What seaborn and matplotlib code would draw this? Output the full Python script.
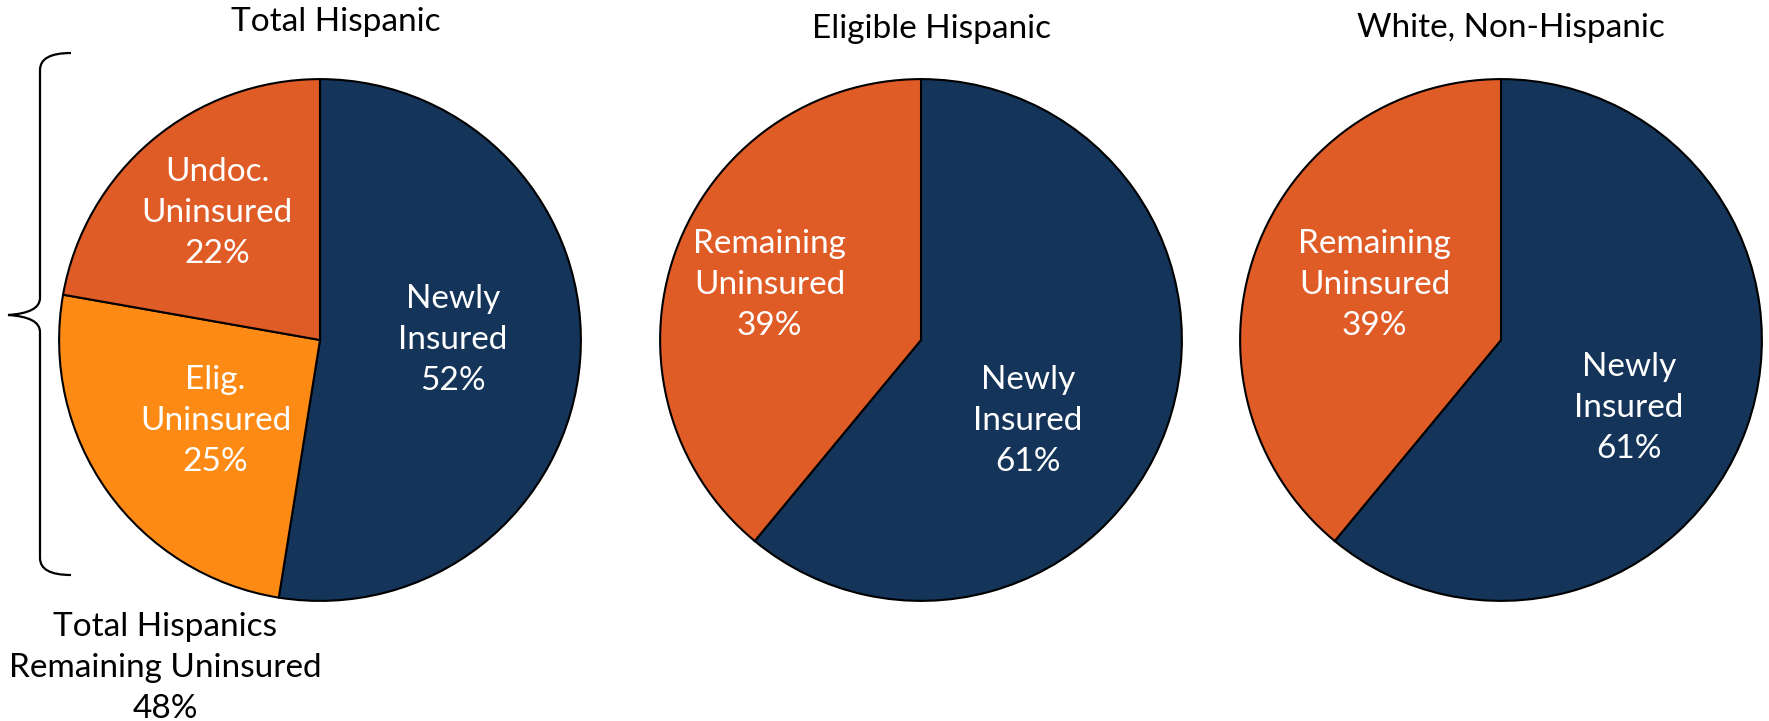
import matplotlib
matplotlib.use("Agg")
import matplotlib.pyplot as plt
from matplotlib.path import Path
from matplotlib.patches import PathPatch
import seaborn as sns

titles = ["Total Hispanic", "Eligible Hispanic", "White, Non-Hispanic"]

total_labels = ["Newly\nInsured", "Elig.\nUninsured", "Undoc.\nUninsured"]
total_values = [52, 25, 22]

eligible_labels = ["Newly\nInsured", "Remaining\nUninsured"]
eligible_values = [61, 39]

white_labels = ["Newly\nInsured", "Remaining\nUninsured"]
white_values = [61, 39]

remaining_note = "Total Hispanics\nRemaining Uninsured\n48%"

navy = "#143459"
red_orange = "#E05C27"
orange = "#FD8A14"

sns.set_theme(style="white")
plt.rcParams["font.family"] = ["Lato", "DejaVu Sans"]

W, H = 1769, 721
fig = plt.figure(figsize=(W / 100, H / 100), dpi=100)

R = 263.5
cy = 340
centers_x = [320, 921, 1501]

charts = [
    (total_values, total_labels, [navy, orange, red_orange],
     [(0.51, 0.0), (-0.40, -0.31), (-0.395, 0.486)]),
    (eligible_values, eligible_labels, [navy, red_orange],
     [(0.41, -0.31), (-0.58, 0.21)]),
    (white_values, white_labels, [navy, red_orange],
     [(0.49, -0.26), (-0.485, 0.21)]),
]
title_y = [22, 29, 28]

for cx, (vals, labs, cols, pos), title, ty in zip(centers_x, charts, titles, title_y):
    ax = fig.add_axes([(cx - R) / W, (H - cy - R) / H, 2 * R / W, 2 * R / H])
    ax.pie(vals, colors=cols, startangle=90, counterclock=False,
           wedgeprops=dict(edgecolor="black", linewidth=1.5))
    ax.set_xlim(-1.01, 1.01)
    ax.set_ylim(-1.01, 1.01)
    ax.set_aspect("equal")
    ax.axis("off")
    for v, lab, (px, py) in zip(vals, labs, pos):
        ax.text(px, py, f"{lab}\n{v}%", color="white", fontsize=24,
                ha="center", va="center", linespacing=1.45)
    fig.text(cx / W + (16 if cx == 320 else 10) / W, 1 - ty / H, title,
             fontsize=24, ha="center", va="center", color="black")

fig.text(165 / W, 1 - 668 / H, remaining_note, fontsize=24, ha="center",
         va="center", linespacing=1.45, color="black")

# curly brace on the left of the first pie
ov = fig.add_axes([0, 0, 1, 1])
ov.set_xlim(0, W)
ov.set_ylim(H, 0)
ov.axis("off")
verts = [(71, 53), (40, 53), (40, 70), (40, 298), (40, 313), (8, 315),
         (40, 317), (40, 332), (40, 558), (40, 575), (71, 575)]
codes = [Path.MOVETO, Path.CURVE3, Path.CURVE3, Path.LINETO, Path.CURVE3,
         Path.CURVE3, Path.CURVE3, Path.CURVE3, Path.LINETO, Path.CURVE3,
         Path.CURVE3]
ov.add_patch(PathPatch(Path(verts, codes), fill=False, edgecolor="black",
                       linewidth=1.6))

fig.savefig("out.png", dpi=100)
